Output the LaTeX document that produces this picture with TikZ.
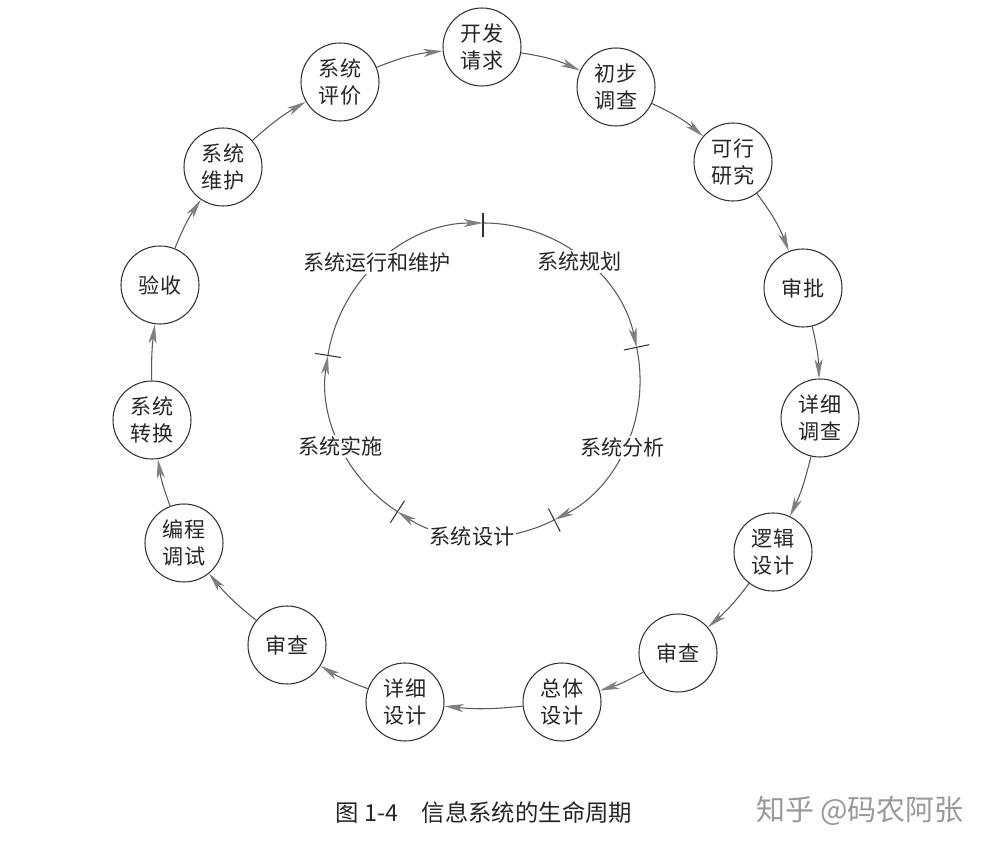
\documentclass[tikz,border=0pt]{standalone}
\usepackage{fontspec}
\setmainfont{Noto Sans CJK SC}
\usetikzlibrary{arrows.meta}

\begin{document}
\begin{tikzpicture}[x=0.2mm, y=0.2mm, every node/.style={font=\fontsize{12}{15.4}\selectfont},
  stage/.style={draw=black!80, line width=0.6pt, circle, minimum size=15.6mm, inner sep=0pt, align=center, text=black!85},
  flow/.style={draw=black!65, line width=0.6pt, -{Stealth[length=11pt, width=4.6pt, inset=3pt, color=black!50]}},
  phase/.style={fill=white, inner sep=1pt, text=black!85},
  tick/.style={draw=black!80, line width=0.6pt}]
  \useasboundingbox[fill=white] (0,0) rectangle (991,852);
  % outer ring: the detailed steps
  \node[stage] (req) at (482,805) {开发\\请求};
  \node[stage] (survey) at (616,765) {初步\\调查};
  \node[stage] (feas) at (733,690) {可行\\研究};
  \node[stage] (approve) at (803,564) {审批};
  \node[stage] (detsurvey) at (820,434) {详细\\调查};
  \node[stage] (logic) at (773,300) {逻辑\\设计};
  \node[stage] (reviewR) at (678,199) {审查};
  \node[stage] (overall) at (562,150) {总体\\设计};
  \node[stage] (detdesign) at (405,150) {详细\\设计};
  \node[stage] (reviewL) at (287,207) {审查};
  \node[stage] (coding) at (184,309) {编程\\调试};
  \node[stage] (convert) at (152,432) {系统\\转换};
  \node[stage] (accept) at (160,567) {验收};
  \node[stage] (maint) at (223,685) {系统\\维护};
  \node[stage] (evalu) at (340,770) {系统\\评价};
  \draw[flow] (req) to[bend left=8] (survey);
  \draw[flow] (survey) to[bend left=8] (feas);
  \draw[flow] (feas) to[bend left=8] (approve);
  \draw[flow] (approve) to[bend left=6] (detsurvey);
  \draw[flow] (detsurvey) to[bend left=6] (logic);
  \draw[flow] (logic) to[bend left=6] (reviewR);
  \draw[flow] (reviewR) to[bend left=6] (overall);
  \draw[flow] (overall) to[bend left=6] (detdesign);
  \draw[flow] (detdesign) to[bend left=6] (reviewL);
  \draw[flow] (reviewL) to[bend left=6] (coding);
  \draw[flow] (coding) to[bend left=6] (convert);
  \draw[flow] (convert) to[bend left=4] (accept);
  \draw[flow] (accept) to[bend left=6] (maint);
  \draw[flow] (maint) to[bend left=6] (evalu);
  \draw[flow] (evalu) to[bend left=8] (req);
  % inner ring: the five phases
  \coordinate (c) at (483,472);
  \coordinate (t1) at ([shift={(90:31.4mm)}]c);
  \coordinate (t2) at ([shift={(12:31.4mm)}]c);
  \coordinate (t3) at ([shift={(-63:31.4mm)}]c);
  \coordinate (t4) at ([shift={(-123:31.4mm)}]c);
  \coordinate (t5) at ([shift={(171:31.4mm)}]c);
  \draw[flow] (t1) arc[start angle=90, end angle=12, radius=31.4mm];
  \draw[flow] (t2) arc[start angle=12, end angle=-63, radius=31.4mm];
  \draw[flow] (t3) arc[start angle=-63, end angle=-123, radius=31.4mm];
  \draw[flow] (t4) arc[start angle=-123, end angle=-189, radius=31.4mm];
  \draw[flow] (t5) arc[start angle=171, end angle=90, radius=31.4mm];
  \draw[tick] ([shift={(90:28.6mm)}]c) -- ([shift={(90:33.4mm)}]c);
  \draw[tick] ([shift={(12:28.8mm)}]c) -- ([shift={(12:34mm)}]c);
  \draw[tick] ([shift={(-63:28.8mm)}]c) -- ([shift={(-63:34mm)}]c);
  \draw[tick] ([shift={(-123:28.8mm)}]c) -- ([shift={(-123:34mm)}]c);
  \draw[tick] ([shift={(171:28.8mm)}]c) -- ([shift={(171:34mm)}]c);
  \node[phase] (plan) at ([shift={(51:30.6mm)}]c) {系统规划};
  \node[phase] (analysis) at ([shift={(-26:31mm)}]c) {系统分析};
  \node[phase] (design) at ([shift={(-94:31.4mm)}]c) {系统设计};
  \node[phase] (impl) at ([shift={(-155:31.4mm)}]c) {系统实施};
  \node[phase] (operate) at ([shift={(132:31.6mm)}]c) {系统运行和维护};
  % caption and mark
  \node[text=black!85, font=\fontsize{13.3}{16}\selectfont] (caption) at (484,39) {图 1-4\quad 信息系统的生命周期};
  \node[text=black!40, font=\fontsize{16.5}{19}\selectfont] (mark) at (860,41) {知乎 @码农阿张};
\end{tikzpicture}
\end{document}
